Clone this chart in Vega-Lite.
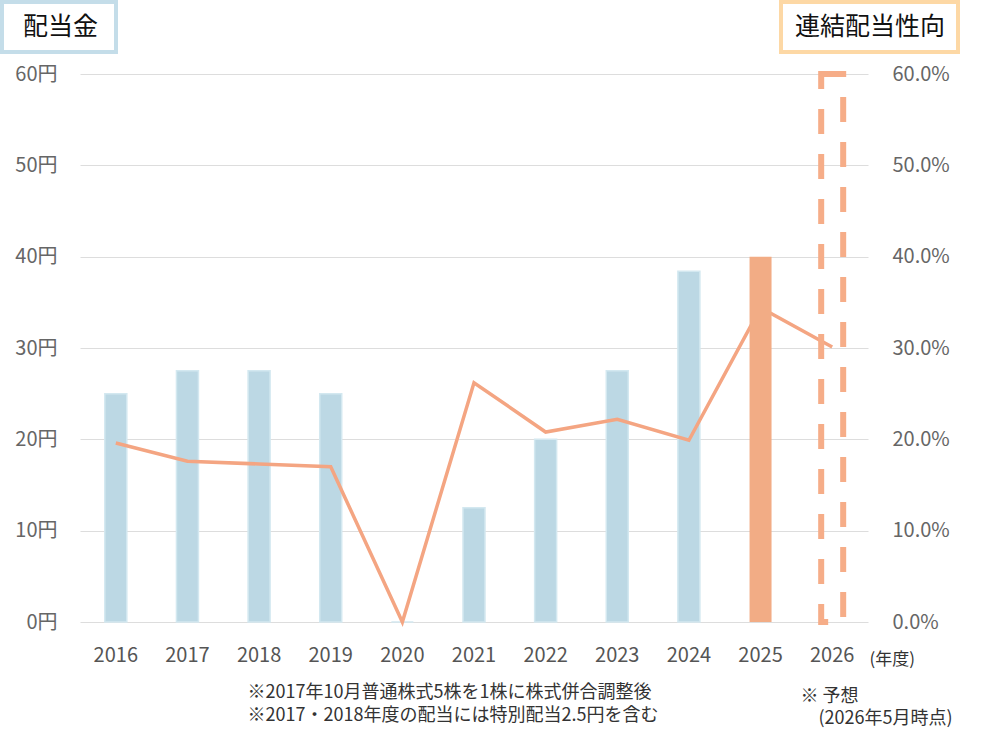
{
  "$schema": "https://vega.github.io/schema/vega-lite/v6.json",
  "width": 788,
  "height": 548,
  "autosize": {"type": "none"},
  "padding": {"left": 80, "top": 74, "right": 116, "bottom": 116},
  "background": "white",
  "data": {
    "values": [
      {"year": 2016, "dividend": 25, "ratio": 19.6},
      {"year": 2017, "dividend": 27.5, "ratio": 17.6},
      {"year": 2018, "dividend": 27.5, "ratio": 17.3},
      {"year": 2019, "dividend": 25, "ratio": 17.0},
      {"year": 2020, "dividend": 0, "ratio": 0},
      {"year": 2021, "dividend": 12.5, "ratio": 26.2},
      {"year": 2022, "dividend": 20, "ratio": 20.8},
      {"year": 2023, "dividend": 27.5, "ratio": 22.2},
      {"year": 2024, "dividend": 38.4, "ratio": 19.9},
      {"year": 2025, "dividend": 40, "ratio": 34.4},
      {"year": 2026, "dividend": 60, "ratio": 30.1}
    ]
  },
  "encoding": {
    "x": {
      "field": "year",
      "type": "ordinal",
      "scale": {"paddingInner": 0, "paddingOuter": 0},
      "axis": {
        "labelAngle": 0,
        "labelFontSize": 20,
        "labelColor": "#555555",
        "labelPadding": 23,
        "domain": false,
        "ticks": false,
        "tickSize": 0,
        "grid": false,
        "title": "(年度)",
        "titleX": 789,
        "titleY": 37,
        "titleAlign": "left",
        "titleBaseline": "middle",
        "titleFontSize": 17,
        "titleFontWeight": "normal",
        "titleColor": "#333333"
      }
    }
  },
  "layer": [
    {
      "transform": [{"filter": "datum.year <= 2024"}],
      "mark": {"type": "bar", "size": 22, "fill": "#BCD8E4", "stroke": "#D3E8F0", "strokeWidth": 1.5},
      "encoding": {
        "y": {
          "field": "dividend",
          "type": "quantitative",
          "scale": {"domain": [0, 60]},
          "axis": {
            "orient": "left",
            "values": [0, 10, 20, 30, 40, 50, 60],
            "labelExpr": "datum.value + '円'",
            "grid": true,
            "gridColor": "#DDDDDD",
            "gridWidth": 1,
            "domain": false,
            "ticks": false,
            "tickSize": 0,
            "labelPadding": 23,
            "labelFontSize": 20,
            "labelColor": "#666666",
            "title": ["※2017年10月普通株式5株を1株に株式併合調整後", "※2017・2018年度の配当には特別配当2.5円を含む"],
            "titleAngle": 0,
            "titleAlign": "left",
            "titleBaseline": "top",
            "titleX": 167,
            "titleY": 609,
            "titleFontSize": 18,
            "titleFontWeight": "normal",
            "titleColor": "#333333",
            "titleLineHeight": 23
          }
        }
      }
    },
    {
      "mark": {"type": "line", "color": "#F4A582", "strokeWidth": 3.5},
      "encoding": {
        "y": {
          "field": "ratio",
          "type": "quantitative",
          "scale": {"domain": [0, 60]},
          "axis": {
            "orient": "right",
            "values": [0, 10, 20, 30, 40, 50, 60],
            "labelExpr": "format(datum.value, '.1f') + '%'",
            "grid": false,
            "domain": false,
            "ticks": false,
            "tickSize": 0,
            "labelPadding": 24,
            "labelFontSize": 20,
            "labelColor": "#666666",
            "title": ["※ 予想", "\u200b\u3000(2026年5月時点)"],
            "titleAngle": 0,
            "titleAlign": "left",
            "titleBaseline": "top",
            "titleX": -68,
            "titleY": 613,
            "titleFontSize": 18,
            "titleFontWeight": "normal",
            "titleColor": "#333333",
            "titleLineHeight": 22
          }
        }
      }
    },
    {
      "encoding": {
        "y": {"field": "dividend", "type": "quantitative", "scale": {"domain": [0, 60]}, "axis": null}
      },
      "layer": [
        {
          "transform": [{"filter": "datum.year == 2025"}],
          "mark": {"type": "bar", "size": 22, "fill": "#F2AC85"}
        },
        {
          "transform": [{"filter": "datum.year == 2026"}],
          "mark": {"type": "bar", "size": 22, "fill": "white", "fillOpacity": 0, "stroke": "#F6AD88", "strokeWidth": 6, "strokeDash": [25, 20]}
        },
        {
          "transform": [{"filter": "datum.year == 2016"}],
          "mark": {"type": "point", "opacity": 0},
          "encoding": {
            "color": {
              "datum": "配当金",
              "legend": {
                "title": null,
                "orient": "none",
                "legendX": -78,
                "legendY": -72,
                "labelFontSize": 25,
                "labelColor": "#111111",
                "labelExpr": "datum.label + '\u2009\u200b'",
                "symbolSize": 0,
                "symbolOpacity": 0,
                "symbolStrokeWidth": 0,
                "labelOffset": -16,
                "padding": 12,
                "strokeColor": "#C4DDE9",
                "fillColor": "white",
                "labelLimit": 400,
                "encode": {"legend": {"enter": {"strokeWidth": {"value": 4}}, "update": {"strokeWidth": {"value": 4}}}}
              }
            },
            "shape": {
              "datum": "連結配当性向",
              "legend": {
                "title": null,
                "orient": "none",
                "legendX": 701,
                "legendY": -72,
                "labelFontSize": 25,
                "labelColor": "#111111",
                "symbolSize": 0,
                "symbolOpacity": 0,
                "symbolStrokeWidth": 0,
                "labelOffset": -23,
                "padding": 12,
                "strokeColor": "#FDD8A5",
                "fillColor": "white",
                "labelLimit": 400,
                "encode": {"legend": {"enter": {"strokeWidth": {"value": 4}}, "update": {"strokeWidth": {"value": 4}}}}
              }
            }
          }
        }
      ]
    }
  ],
  "resolve": {"scale": {"y": "independent"}, "axis": {"y": "independent"}},
  "config": {
    "font": "Noto Sans CJK JP",
    "view": {"stroke": null},
    "axis": {"labelFont": "Noto Sans CJK JP", "titleFont": "Noto Sans CJK JP"},
    "legend": {"labelFont": "Noto Sans CJK JP", "strokeWidth": 4}
  }
}
